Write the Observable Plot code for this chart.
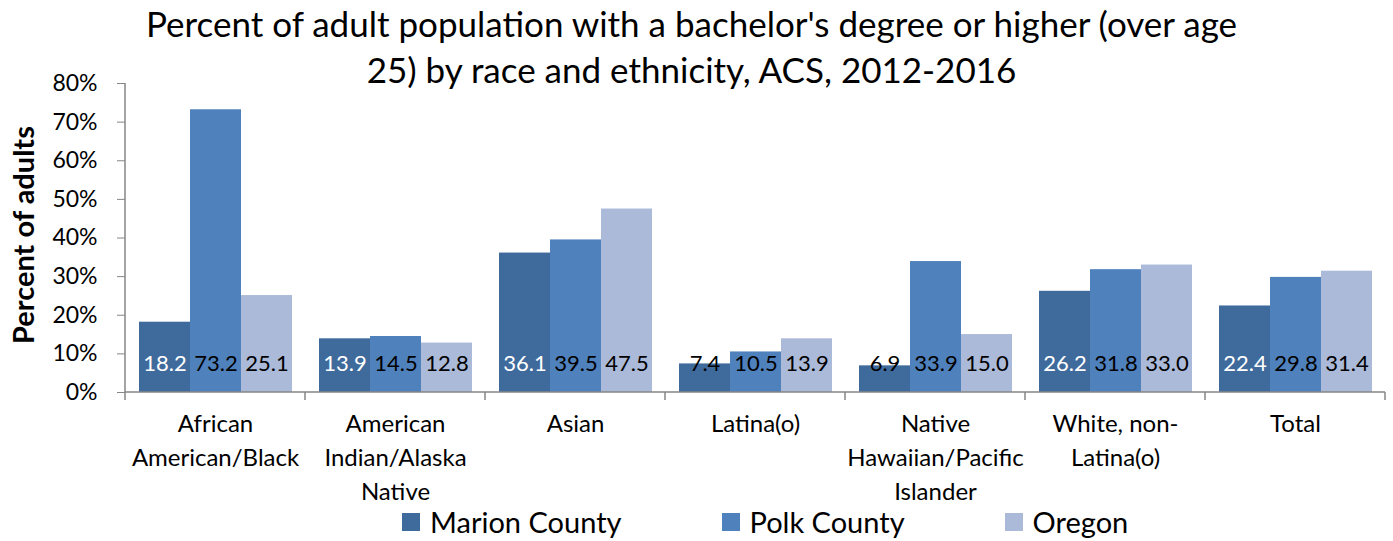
<!DOCTYPE html>
<html>
<head>
<meta charset="utf-8">
<script src="https://cdn.jsdelivr.net/npm/d3@7"></script>
<script src="https://cdn.jsdelivr.net/npm/@observablehq/plot@0.6"></script>
<style>
  html, body { margin: 0; padding: 0; background: #fff; }
  #wrap { position: relative; width: 1393px; height: 541px; font-family: Lato, "Open Sans", sans-serif; color: #000; overflow: hidden; }
  #title { position: absolute; left: 0; top: 0; width: 1383px; text-align: center; font-size: 35px; line-height: 46px; }
  #legend { position: absolute; left: 402px; top: 507px; display: flex; gap: 100px; font-size: 29px; line-height: 30px; align-items: center; }
  #legend .item { display: flex; align-items: center; gap: 10px; }
  #legend .sw { width: 18px; height: 18px; display: inline-block; }
  #ylabel { position: absolute; left: 22px; top: 235px; transform: translate(-50%, -50%) rotate(-90deg); font-weight: bold; font-size: 29px; white-space: nowrap; }
  svg { position: absolute; left: 0; top: 0; }
</style>
</head>
<body>
<div id="wrap">
  <div id="chart"></div>
  <div id="title">Percent of adult population with a bachelor's degree or higher (over age<br>25) by race and ethnicity, ACS, 2012-2016</div>
  <div id="ylabel">Percent of adults</div>
  <div id="legend"></div>
</div>
<script>
const categories = ["African American/Black", "American Indian/Alaska Native", "Asian", "Latina(o)", "Native Hawaiian/Pacific Islander", "White, non-Latina(o)", "Total"];
const categoryLabels = ["African\nAmerican/Black", "American\nIndian/Alaska\nNative", "Asian", "Latina(o)", "Native\nHawaiian/Pacific\nIslander", "White, non-\nLatina(o)", "Total"];
const series = ["Marion County", "Polk County", "Oregon"];
const marion = [18.2, 13.9, 36.1, 7.4, 6.9, 26.2, 22.4];
const polk = [73.2, 14.5, 39.5, 10.5, 33.9, 31.8, 29.8];
const oregon = [25.1, 12.8, 47.5, 13.9, 15.0, 33.0, 31.4];
const colors = ["#3F6A9C", "#4F81BD", "#AABAD8"];
const yTicks = [0, 10, 20, 30, 40, 50, 60, 70, 80];

const seriesValues = [marion, polk, oregon];
const data = categories.flatMap((c, i) => series.map((s, j) => ({category: c, series: s, value: seriesValues[j][i], si: j})));
const labelMap = new Map(categories.map((c, i) => [c, categoryLabels[i]]));
// Marion labels are white when they sit inside the dark bar, black otherwise
const labelFill = d => (d.si === 0 && d.value > 9) ? "#ffffff" : "#000000";

const plot = Plot.plot({
  width: 1393,
  height: 541,
  marginTop: 83,
  marginBottom: 149,
  marginLeft: 123,
  marginRight: 7,
  style: {fontFamily: "Lato, 'Open Sans', sans-serif", fontSize: "22px", color: "#000", background: "transparent"},
  fx: {domain: categories, padding: 0, label: null, axis: null},
  x: {domain: series, paddingInner: 0, paddingOuter: 0.245, axis: null},
  y: {domain: [0, 80], label: null, axis: null},
  color: {domain: series, range: colors},
  marks: [
    Plot.barY(data, {fx: "category", x: "series", y: "value", fill: "series"}),
    Plot.text(data, {fx: "category", x: "series", text: d => d.value.toFixed(1), frameAnchor: "bottom", dy: -22,
      fill: labelFill, fontSize: 22}),
    Plot.axisY({ticks: yTicks, tickFormat: d => d + "%", tickSize: 8, tickPadding: 20, stroke: "#868686", fill: "#000", fontSize: 23, label: null}),
    Plot.axisFx({anchor: "bottom", tickSize: 0, tickPadding: 15, tickFormat: c => labelMap.get(c), lineHeight: 1.42, fontSize: 24, fill: "#000", label: null})
  ]
});

document.getElementById("chart").appendChild(plot);

// Axis lines and category boundary ticks from the library's scales
const fx = plot.scale("fx");
const y = plot.scale("y");
const y0 = y.apply(0), yTop = y.apply(80);
const bounds = categories.map(c => fx.apply(c));
bounds.push(fx.apply(categories[categories.length - 1]) + fx.bandwidth);
const g = d3.select(plot).append("g").attr("stroke", "#868686").attr("stroke-width", 1.5);
g.append("line").attr("x1", bounds[0]).attr("x2", bounds[bounds.length - 1]).attr("y1", y0).attr("y2", y0);
g.append("line").attr("x1", bounds[0]).attr("x2", bounds[0]).attr("y1", yTop).attr("y2", y0);
bounds.forEach(b => g.append("line").attr("x1", b).attr("x2", b).attr("y1", y0).attr("y2", y0 + 8));

// Legend
const legend = d3.select("#legend");
series.forEach((s, i) => {
  const it = legend.append("div").attr("class", "item");
  it.append("span").attr("class", "sw").style("background", colors[i]);
  it.append("span").text(s);
});
</script>
</body>
</html>
